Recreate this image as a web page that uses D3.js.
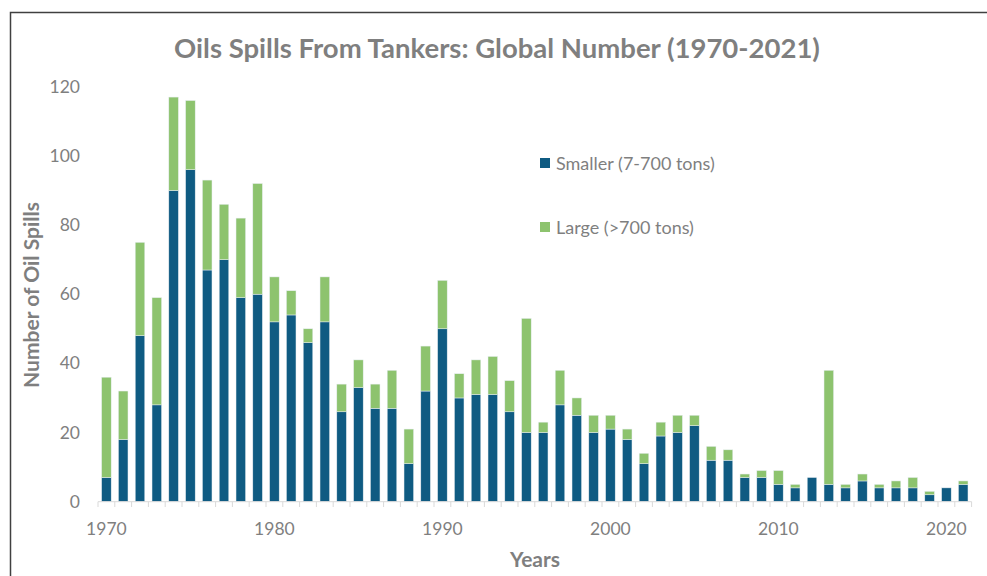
<!DOCTYPE html>
<html>
<head>
<meta charset="utf-8">
<script src="https://cdn.jsdelivr.net/npm/d3@7"></script>
<style>
html,body{margin:0;padding:0;background:#fff;}
svg{display:block;}
</style>
</head>
<body>
<svg id="chart" width="987" height="576"></svg>
<script>
const years = d3.range(1970, 2022);
const smaller = [7,18,48,28,90,96,67,70,59,60,52,54,46,52,26,33,27,27,11,32,50,30,31,31,26,20,20,28,25,20,21,18,11,19,20,22,12,12,7,7,5,4,7,5,4,6,4,4,4,2,4,5];
const large   = [29,14,27,31,27,20,26,16,23,32,13,7,4,13,8,8,7,11,10,13,14,7,10,11,9,33,3,10,5,5,4,3,3,4,5,3,4,3,1,2,4,1,0,33,1,2,1,2,3,1,0,1];
const yTicks = [0,20,40,60,80,100,120];
const xTickYears = [1970,1980,1990,2000,2010,2020];
const seriesNames = ["Smaller (7-700 tons)", "Large (>700 tons)"];
const colors = ["#0f5b82", "#8dc36e"];

const svg = d3.select("#chart");
const font = "Lato, 'Noto Sans', sans-serif";
const gray = "#7f7f7f";

// frame (top and left edges visible)
svg.append("rect").attr("x",10.5).attr("y",12.5).attr("width",1000).attr("height",700)
  .attr("fill","none").attr("stroke","#404040").attr("stroke-width",1.5);

const x = d3.scaleBand().domain(years).range([98, 971.6]).paddingInner(0.43).paddingOuter(0.215);
const y = d3.scaleLinear().domain([0,120]).range([501.7, 86.7]);

const data = years.map((yr,i)=>({year:yr, s:smaller[i], l:large[i]}));
const stack = d3.stack().keys(["s","l"])(data);

svg.append("g").selectAll("g").data(stack).join("g")
  .attr("fill",(d,i)=>colors[i])
  .selectAll("rect").data(d=>d).join("rect")
  .attr("x",d=>x(d.data.year))
  .attr("width",x.bandwidth())
  .attr("y",d=>y(d[1]))
  .attr("height",d=>Math.max(0,y(d[0])-y(d[1])))
  .attr("stroke","#e8eef2").attr("stroke-width",0.5);

// x axis line and ticks at band boundaries
const axisG = svg.append("g");
axisG.append("line").attr("x1",98).attr("x2",971.6).attr("y1",501.7).attr("y2",501.7)
  .attr("stroke","#d9d9d9").attr("stroke-width",1);
const step = x.step();
axisG.selectAll("line.tk").data(d3.range(years.length+1)).join("line").attr("class","tk")
  .attr("x1",i=>98+i*step).attr("x2",i=>98+i*step)
  .attr("y1",501.7).attr("y2",507)
  .attr("stroke","#d9d9d9").attr("stroke-width",1);

axisG.selectAll("text.xl").data(xTickYears).join("text").attr("class","xl")
  .attr("x",d=>x(d)+x.bandwidth()/2).attr("y",535)
  .attr("text-anchor","middle").attr("font-family",font).attr("font-size",17.5).attr("fill",gray)
  .text(d=>d);

// y labels
svg.append("g").selectAll("text").data(yTicks).join("text")
  .attr("x",80).attr("y",d=>y(d)+6)
  .attr("text-anchor","end").attr("font-family",font).attr("font-size",17.5).attr("fill",gray)
  .text(d=>d);

// title
svg.append("text").attr("x",497).attr("y",58).attr("text-anchor","middle")
  .attr("font-family",font).attr("font-weight","bold").attr("font-size",27.5).attr("fill",gray)
  .text("Oils Spills From Tankers: Global Number (1970-2021)");

// axis titles
svg.append("text").attr("transform","translate(39,295) rotate(-90)").attr("text-anchor","middle")
  .attr("font-family",font).attr("font-weight","bold").attr("font-size",21).attr("fill",gray)
  .text("Number of Oil Spills");
svg.append("text").attr("x",535).attr("y",567).attr("text-anchor","middle")
  .attr("font-family",font).attr("font-weight","bold").attr("font-size",21).attr("fill",gray)
  .text("Years");

// legend
const leg = svg.append("g");
const legY = [163, 227];
seriesNames.forEach((n,i)=>{
  leg.append("rect").attr("x",540).attr("y",legY[i]-5).attr("width",10).attr("height",10).attr("fill",colors[i]);
  leg.append("text").attr("x",556).attr("y",legY[i]+6.5).attr("font-family",font).attr("font-size",18).attr("fill",gray).text(n);
});
</script>
</body>
</html>
